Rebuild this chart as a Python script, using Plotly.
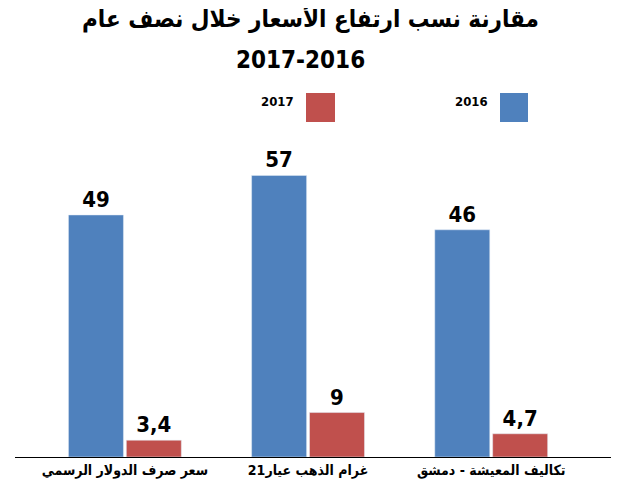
import plotly.graph_objects as go

categories = ["سعر صرف الدولار الرسمي", "غرام الذهب عيار21", "تكاليف المعيشة - دمشق"]
v2016 = [49, 57, 46]
v2017 = [3.4, 9, 4.7]
t2016 = ["<b>49</b>", "<b>57</b>", "<b>46</b>"]
t2017 = ["<b>3,4</b>", "<b>9</b>", "<b>4,7</b>"]
BLUE, RED = "#4F81BD", "#C0504D"
FONT = "DejaVu Sans Condensed, DejaVu Sans"

OFF = 8
W, H = 619 - 2 * OFF, 490 - 2 * OFF
L, R, T, B = 15 - OFF, 7 - OFF + 8, 90 - OFF, 33 - OFF + 8
L, R, T, B = 7, 0, 82, 25
PW, PH = W - L - R, H - T - B
def xp(px): return (px - OFF - L) / PW
def yp(py): return (H - B - (py - OFF)) / PH

fig = go.Figure()
fig.add_bar(x=list(range(3)), y=v2016, name="2016", marker_color=BLUE, text=t2016,
            textposition="outside", textfont=dict(size=22, color="black", family=FONT), cliponaxis=False)
fig.add_bar(x=list(range(3)), y=v2017, name="2017", marker_color=RED, text=t2017,
            textposition="outside", textfont=dict(size=22, color="black", family=FONT), cliponaxis=False)

shapes = [
    dict(type="rect", xref="paper", yref="paper", x0=xp(500), x1=xp(528), y0=yp(122), y1=yp(93),
         fillcolor=BLUE, line_width=0),
    dict(type="rect", xref="paper", yref="paper", x0=xp(306), x1=xp(335), y0=yp(122), y1=yp(93),
         fillcolor=RED, line_width=0),
]
def a(text, x, y, size, xanchor="center"):
    return dict(text=text, x=xp(x), y=yp(y), xref="paper", yref="paper", xanchor=xanchor,
                yanchor="middle", showarrow=False, font=dict(size=size, family=FONT, color="black"))
ann = [
    a("<b>مقارنة نسب ارتفاع الأسعار خلال نصف عام</b>", 310, 18, 24),
    a("<b>2017-2016</b>", 300, 60, 24),
    a("<b>2016</b>", 490, 101, 13, "right"),
    a("<b>2017</b>", 296, 101, 13, "right"),
]

fig.update_layout(
    width=W, height=H, margin=dict(l=L, r=R, t=T, b=B), showlegend=False,
    plot_bgcolor="white", paper_bgcolor="white",
    barmode="group", bargap=0.368, bargroupgap=0.05,
    shapes=shapes, annotations=ann,
    xaxis=dict(range=[-0.6, 2.654], tickvals=[0, 1, 2], ticktext=["<b>%s</b>" % c for c in categories],
               showline=True, linecolor="black", linewidth=1, showgrid=False, ticks="",
               tickfont=dict(size=14, family=FONT, color="black")),
    yaxis=dict(range=[0, 74.3], visible=False),
)
fig.write_html("out.html")
